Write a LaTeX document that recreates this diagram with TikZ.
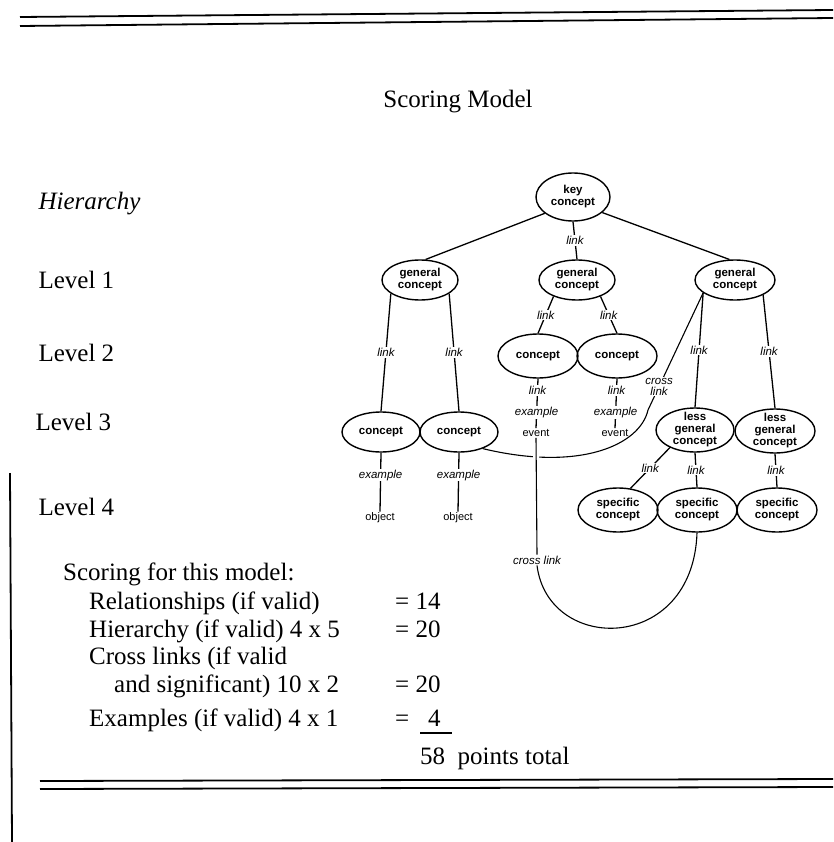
\documentclass[tikz,border=0pt]{standalone}
\usepackage{fontspec}
\setmainfont{Liberation Serif}
\newfontfamily\mapfont{Liberation Sans}
\usetikzlibrary{shapes.geometric}

\begin{document}
\begin{tikzpicture}[
    x=1pt, y=-1pt,
    font=\fontsize{25}{29}\selectfont,
    concept/.style = {ellipse, draw, line width=1.4pt, inner sep=0pt,
                      minimum width=78pt, minimum height=42pt,
                      label={[ctext]center:#1}},
    big/.style     = {minimum width=80pt, minimum height=44pt},
    ctext/.style   = {align=center, inner sep=0pt,
                      font=\mapfont\bfseries\fontsize{11.5}{12}\selectfont},
    lnk/.style     = {fill=white, inner sep=1pt, align=center,
                      font=\mapfont\itshape\fontsize{11.5}{11}\selectfont},
    leaf/.style    = {inner sep=1pt, font=\mapfont\fontsize{11}{12}\selectfont},
    edge/.style    = {line width=1.3pt},
    xlink/.style   = {line width=1.1pt},
    rule/.style    = {line width=1.8pt},
    lvl/.style     = {anchor=west},
    row/.style     = {anchor=base west, inner sep=0pt},
]
\useasboundingbox (0,0) rectangle (833,842);

%% ── Frame rules ──────────────────────────────────────────────────────────
\draw[rule] (20,17) -- (833,10);
\draw[rule] (20,26) -- (833,18);
\draw[rule] (40,781) -- (833,779);
\draw[rule] (40,789) -- (833,787);
\draw[rule] (10,473) -- (12,842);

%% ── Title and hierarchy levels ───────────────────────────────────────────
\node (title) at (458,102) {Scoring Model};
\node[lvl, font=\fontsize{25}{29}\selectfont\itshape] (hier) at (35,204) {Hierarchy};
\node[lvl] (lv1) at (35,280) {Level 1};
\node[lvl] (lv2) at (35,353) {Level 2};
\node[lvl] (lv3) at (32,422) {Level 3};
\node[lvl] (lv4) at (35,507) {Level 4};

%% ── Concept nodes ────────────────────────────────────────────────────────
\node[concept={key\\concept}, minimum width=74pt, minimum height=48pt] (key) at (573,197) {};

\node[concept={general\\concept}, minimum width=76pt, minimum height=40pt] (gL) at (420,280) {};
\node[concept={general\\concept}, minimum width=76pt, minimum height=40pt] (gM) at (577,280) {};
\node[concept={general\\concept}, minimum width=80pt, minimum height=40pt] (gR) at (735,280) {};

\node[concept=concept, big] (cA) at (538,356) {};
\node[concept=concept, big] (cB) at (617,356) {};

\node[concept=concept, minimum height=40pt] (c1) at (381,432) {};
\node[concept=concept, minimum height=40pt] (c2) at (459,432) {};
\node[concept={less\\general\\concept}, minimum height=44pt] (l1) at (695,430) {};
\node[concept={less\\general\\concept}, big] (l2) at (775,431) {};

\node[concept={specific\\concept}, big] (s1) at (618,510) {};
\node[concept={specific\\concept}, big] (s2) at (697,510) {};
\node[concept={specific\\concept}, big] (s3) at (777,510) {};

%% ── Examples ─────────────────────────────────────────────────────────────
\node[leaf] (evA) at (536,433) {event};
\node[leaf] (evB) at (615,433) {event};
\node[leaf] (ob1) at (380,518) {object};
\node[leaf] (ob2) at (458,518) {object};

%% ── Links ────────────────────────────────────────────────────────────────
\draw[edge] (key.-150) -- (gL.75);
\draw[edge] (key.south) -- node[lnk]{link} (gM.north);
\draw[edge] (key.-28) -- (gR.105);

\draw[edge] (gL.-155) -- node[lnk]{link} (c1.north);
\draw[edge] (gL.-25) -- node[lnk]{link} (c2.north);
\draw[edge] (gM.-145) -- node[lnk]{link} (cA.north);
\draw[edge] (gM.-35) -- node[lnk]{link} (cB.north);
\draw[edge] (gR.-158) -- node[lnk]{link} (l1.north);
\draw[edge] (gR.-28) -- node[lnk]{link} (l2.north);

\draw[edge] (cA.south) -- node[lnk, pos=.24]{link} node[lnk, pos=.68]{example} (evA.north);
\draw[edge] (cB.south) -- node[lnk, pos=.24]{link} node[lnk, pos=.68]{example} (evB.north);
\draw[edge] (c1.south) -- node[lnk, pos=.38]{example} (ob1.north);
\draw[edge] (c2.south) -- node[lnk, pos=.38]{example} (ob2.north);

\draw[edge] (l1.-145) -- node[lnk]{link} (s1.60);
\draw[edge] (l1.south) -- node[lnk]{link} (s2.north);
\draw[edge] (l2.south) -- node[lnk]{link} (s3.north);

%% ── Cross links ──────────────────────────────────────────────────────────
\coordinate (xb) at (648,410);
\node[lnk] (clk) at (537,560) {cross link};

\draw[xlink] (gR.-158) -- node[lnk, pos=.8]{cross\\link} (xb)
    .. controls (640,445) and (580,472) .. (c2.-35);
\draw[xlink, preaction={draw=white, line width=6pt}] (evA.south) -- (clk.north);
\draw[xlink] (clk.south) .. controls (548,654) and (693,654) .. (s2.south);

%% ── Scoring ──────────────────────────────────────────────────────────────
\node[row] (sc0) at (63,580)  {Scoring for this model:};
\node[row] (sc1) at (89,609)  {Relationships (if valid)};
\node[row] (sc2) at (89,637)  {Hierarchy (if valid) 4 x 5};
\node[row] (sc3) at (89,664)  {Cross links (if valid};
\node[row] (sc4) at (114,692) {and significant) 10 x 2};
\node[row] (sc5) at (89,726)  {Examples (if valid) 4 x 1};

\node[row] (v1) at (395,609) {= 14};
\node[row] (v2) at (395,637) {= 20};
\node[row] (v4) at (395,692) {= 20};
\node[row] (v5) at (395,726) {= \phantom{1}4};
\draw[rule] (420,733) -- (452,733);
\node[row] (tot) at (420,764) {58\enspace points total};

\end{tikzpicture}
\end{document}
